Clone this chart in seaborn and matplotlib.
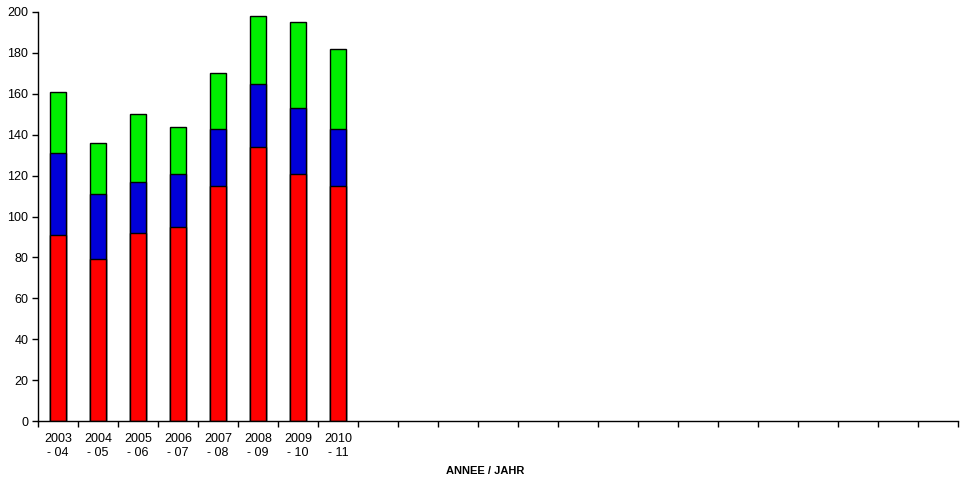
import matplotlib
matplotlib.use("Agg")
import matplotlib.pyplot as plt
import seaborn as sns
import numpy as np
import pandas as pd

seasons = ["2003\n- 04", "2004\n- 05", "2005\n- 06", "2006\n- 07",
           "2007\n- 08", "2008\n- 09", "2009\n- 10", "2010\n- 11"]
red_vals = [91, 79, 92, 95, 115, 134, 121, 115]
blue_vals = [40, 32, 25, 26, 28, 31, 32, 28]
green_vals = [30, 25, 33, 23, 27, 33, 42, 39]
n_slots = 23
y_ticks = list(range(0, 201, 20))

sns.set_style("white")
plt.rcParams['font.family'] = ['Liberation Sans', 'DejaVu Sans']

df = pd.DataFrame({"season": seasons, "red": red_vals,
                   "blue": blue_vals, "green": green_vals})
df["blue_top"] = df["red"] + df["blue"]
df["green_top"] = df["blue_top"] + df["green"]

fig = plt.figure(figsize=(9.66, 4.78), dpi=100)
ax = fig.add_axes([38 / 966, 1 - 421 / 478, 920 / 966, 409 / 478])

# draw cumulative layers from top to bottom so they stack
for col, color in [("green_top", "#00EE00"), ("blue_top", "#0000D8"), ("red", "#FF0000")]:
    sns.barplot(data=df, x="season", y=col, color=color, width=0.4,
                edgecolor="black", linewidth=1, saturation=1, ax=ax)

ax.set_xlim(-0.5, n_slots - 0.5)
ax.set_ylim(0, 200)
ax.set_yticks(y_ticks)
ax.tick_params(axis="y", left=True, direction="out", length=4, width=1,
               labelsize=9, pad=3, color="black", labelcolor="black")
ax.tick_params(axis="x", which="major", bottom=True, length=0, labelsize=9,
               pad=9, labelcolor="black")
ax.set_xticks(np.arange(-0.5, n_slots, 1.0), minor=True)
ax.tick_params(axis="x", which="minor", bottom=True, direction="out",
               length=4, width=1, color="black")

for s in ["top", "right"]:
    ax.spines[s].set_visible(False)
for s in ["left", "bottom"]:
    ax.spines[s].set_color("black")
    ax.spines[s].set_linewidth(1)

ax.set_ylabel("")
ax.set_xlabel("ANNEE / JAHR", fontsize=8, fontweight="bold", color="black")
ax.xaxis.set_label_coords(0.486, -0.11)

fig.savefig("out.png", dpi=100)
